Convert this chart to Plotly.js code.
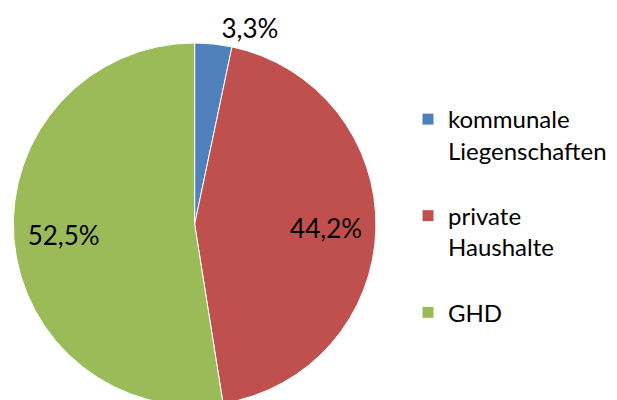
<!DOCTYPE html>
<html>
<head>
<meta charset="utf-8">
<script src="https://cdn.plot.ly/plotly-3.0.1.min.js"></script>
<style>html,body{margin:0;padding:0;overflow:hidden;background:#fff;}</style>
</head>
<body>
<div id="chart" style="width:617px;height:420px;"></div>
<script>
const categories = ["kommunale<br>Liegenschaften<br> ", "private<br>Haushalte<br> ", "GHD<br> "];
const shares = [3.3, 44.2, 52.5];
const colors = ["#4F81BD", "#C0504D", "#9BBB59"];
const textPositions = ["outside", "inside", "inside"];

const W = 617, H = 420;
const dom = {x: [13.3 / W, 376 / W], y: [1 - 405.6 / H, 1 - 43 / H]};
const basePie = {
  type: "pie",
  labels: categories,
  values: shares,
  sort: false,
  direction: "clockwise",
  rotation: 0,
  marker: {colors: colors, line: {color: "#ffffff", width: 1}},
  textinfo: "none",
  hoverinfo: "label+percent",
  domain: dom
};
const labelRing = {
  type: "pie",
  labels: categories,
  values: shares,
  sort: false,
  direction: "clockwise",
  rotation: 0,
  hole: 0.45,
  showlegend: false,
  marker: {colors: ["rgba(0,0,0,0)", "rgba(0,0,0,0)", "rgba(0,0,0,0)"], line: {width: 0}},
  textposition: textPositions,
  texttemplate: "%{value:.1f}%",
  textfont: {family: "Lato, sans-serif", size: 26, color: "#000000"},
  insidetextorientation: "horizontal",
  hoverinfo: "skip",
  domain: dom
};
const layout = {
  width: W, height: H,
  margin: {l: 0, r: 0, t: 0, b: 0},
  separators: ",.",
  paper_bgcolor: "#ffffff",
  showlegend: true,
  legend: {
    x: 408 / W, xanchor: "left", y: 1 - 97 / H, yanchor: "top",
    valign: "top",
    font: {family: "Lato, sans-serif", size: 24, color: "#000000"},
    bgcolor: "rgba(0,0,0,0)"
  },
  font: {family: "Lato, sans-serif"}
};
Plotly.newPlot("chart", [basePie, labelRing], layout, {displayModeBar: false, staticPlot: true});
</script>
</body>
</html>
